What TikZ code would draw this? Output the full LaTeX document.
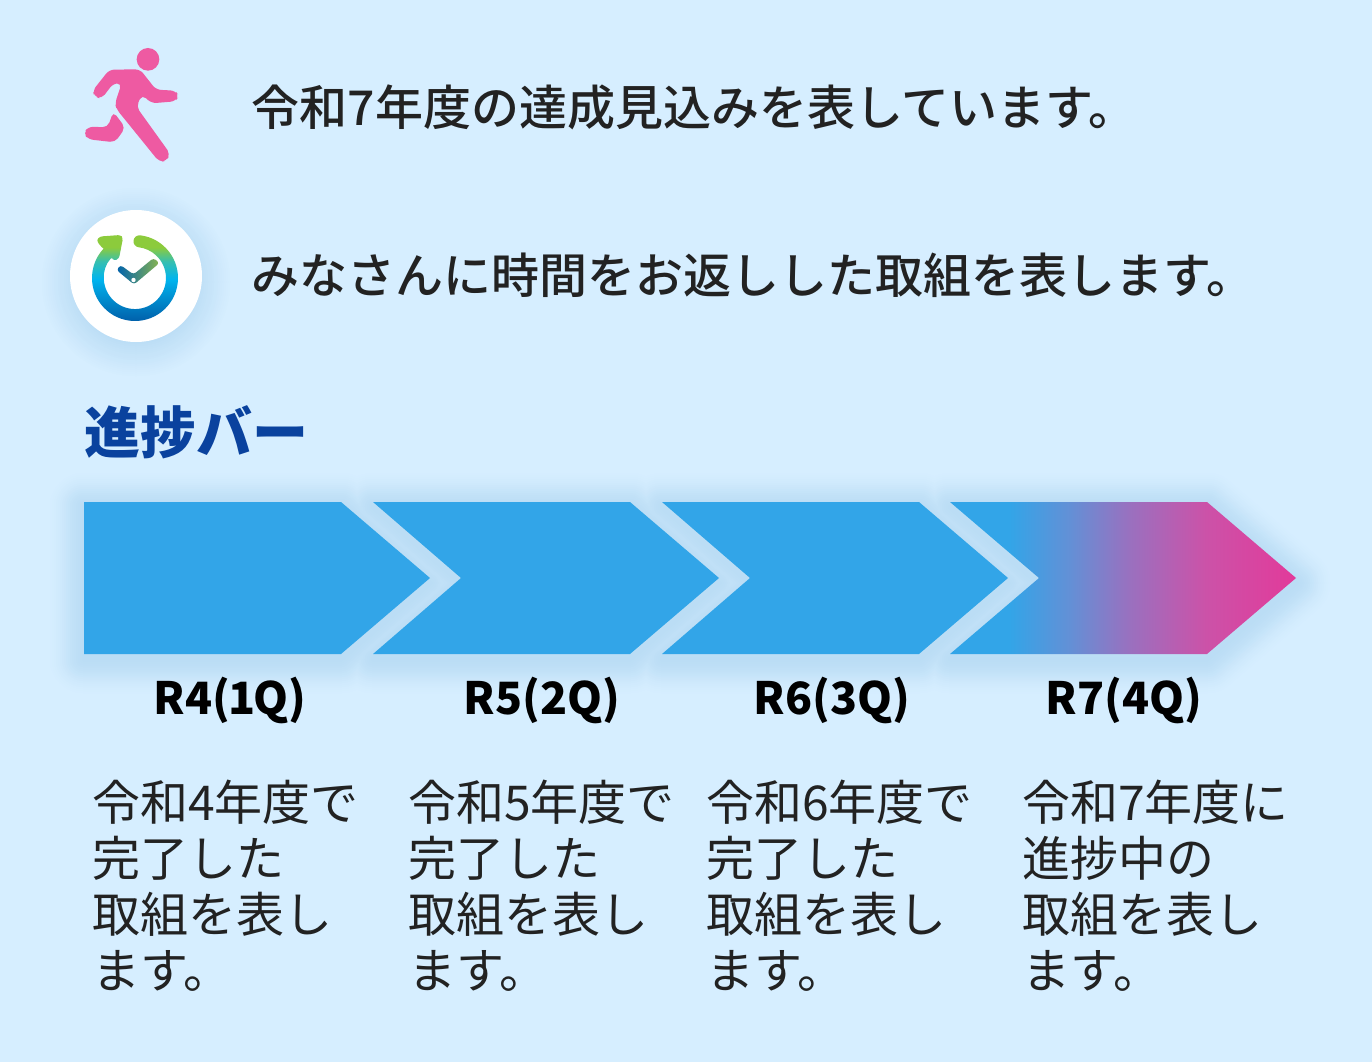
\documentclass[tikz,border=0pt]{standalone}
\usepackage{fontspec}
\setmainfont{Noto Sans CJK JP}
\newfontfamily\medjp{Noto Sans CJK JP Medium}
\usetikzlibrary{positioning}
\definecolor{bgblue}{HTML}{D6EEFF}
\definecolor{barblue}{HTML}{32A5E8}
\definecolor{glowedge}{HTML}{BBDDF5}
\definecolor{barpink}{HTML}{E23A9A}
\definecolor{barmida}{HTML}{6390D6}
\definecolor{barmidb}{HTML}{9A70BF}
\definecolor{barmidc}{HTML}{CC52A8}
\definecolor{runpink}{HTML}{EE5AA2}
\definecolor{titleblue}{HTML}{0A429E}
\definecolor{txtdark}{HTML}{222222}
\definecolor{ringdark}{HTML}{0062AC}
\definecolor{ringcyan}{HTML}{00B4EE}
\definecolor{ringteal}{HTML}{35BFB0}
\definecolor{ringgreen}{HTML}{8CCB3C}
\pgfdeclarehorizontalshading{lastbar}{100bp}{color(0bp)=(barblue); color(33.5bp)=(barblue); color(42.3bp)=(barmida); color(51bp)=(barmidb); color(62bp)=(barmidc); color(75bp)=(barpink); color(100bp)=(barpink)}
\pgfdeclareverticalshading{ringshade}{100bp}{color(0bp)=(ringdark); color(27bp)=(ringdark); color(50bp)=(ringcyan); color(60bp)=(ringteal); color(68bp)=(ringgreen); color(100bp)=(ringgreen)}
\tikzset{
  linetext/.style={anchor=base west,inner sep=0pt,text=txtdark,font=\fontsize{48}{48}\selectfont\medjp},
  blocktext/.style={anchor=north west,inner sep=0pt,align=left,text=txtdark,font=\fontsize{48}{56}\selectfont},
  quarter/.style={anchor=base,inner sep=0pt,text=black,font=\fontsize{44.5}{44.5}\selectfont\bfseries},
  glow/.style={line join=round,yshift=-5pt},
}
\begin{document}
\begin{tikzpicture}[x=1pt,y=1pt]
\useasboundingbox (0,0) rectangle (1372,-1062);
\fill [bgblue] (0,0) rectangle (1372,-1062);

% glow behind the bar
\foreach \w [evaluate=\w as \p using {100*(\w/76)*(\w/76)*(3-2*\w/76)}] in {76,72,...,4} {
  \draw [glow,draw=bgblue!\p!glowedge,fill=bgblue!\p!glowedge,line width=\w pt] (84,-502) -- (341,-502) -- (430,-578) -- (341,-654) -- (84,-654) -- cycle;
  \foreach \xs in {373,662,950}
    \draw [glow,draw=bgblue!\p!glowedge,line width=\w pt,xshift=\xs pt] (0,-502) -- (257,-502) -- (346,-578) -- (257,-654) -- (0,-654) -- (88,-578) -- cycle;
}

% bar
\fill [barblue] (84,-502) -- (341,-502) -- (430,-578) -- (341,-654) -- (84,-654) -- cycle;
\foreach \xs in {373,662}
  \fill [barblue,xshift=\xs pt] (0,-502) -- (257,-502) -- (346,-578) -- (257,-654) -- (0,-654) -- (88,-578) -- cycle;
\shade [shading=lastbar] (950,-502) -- (1207,-502) -- (1296,-578) -- (1207,-654) -- (950,-654) -- (1039,-578) -- cycle;

% runner
\begin{scope}[shift={(60,-30)},x=.3333pt,y=-.3333pt]
\fill [runpink] (264,88) circle (34);
\fill [runpink,rounded corners=5pt] (148,119) -- (240,118) -- (288,179) -- (346,182) -- (357,198) -- (346,214) -- (275,220) -- (246,194) -- (229,230) -- (331,372) -- (319,393) -- (298,396) -- (170,238) -- (165,220) -- (185,160) -- (160,160) -- (125,206) -- (104,201) -- (98,182) -- cycle;
\fill [runpink,rounded corners=5pt] (160,245) -- (196,293) -- (165,337) -- (85,328) -- (70,310) -- (85,290) -- (143,292) -- cycle;
\end{scope}

% clock
\foreach \r [evaluate=\r as \p using {100*(\r-60)/36}] in {96,94,...,62}
  \fill [bgblue!\p!glowedge] (136,-282) circle (\r);
\fill [white] (136,-276) circle (66);
\shade [shading=ringshade] (140.24,-235.32) arc [start angle=83,delta angle=-306,radius=43]
  [rounded corners=2.5pt] -- (100,-245.5) -- (96.5,-240) -- (100,-236.5) -- (120.5,-235) -- (123,-238) -- (119,-258.5) -- (113.5,-261) -- (112.3,-256.9) [sharp corners]
  arc [start angle=137,delta angle=306,radius=31] arc [start angle=263,delta angle=-180,radius=6] -- cycle;
\shade [left color=ringdark,right color=ringgreen!70!gray,rounded corners=3pt] (116.5,-270) -- (120.5,-265) -- (133.5,-274.5) -- (153.5,-258) -- (159.5,-263) -- (134,-284.5) -- cycle;
\fill [white] (133.5,-280) circle (2.2);

% texts
\node [linetext] (note1) at (251.5,-125) {令和7年度の達成見込みを表しています。};
\node [linetext] (note2) at (251.5,-293) {みなさんに時間をお返しした取組を表します。};
\node [anchor=base west,inner sep=0pt,text=titleblue,font=\fontsize{56}{56}\selectfont\bfseries] (title) at (84,-453.5) {進捗バー};

\node [quarter] (q1) at (230,-714) {R4(\kern-1.5pt 1\kern-2pt Q)};
\node [quarter] (q2) at (542,-714) {R5(2Q)};
\node [quarter] (q3) at (832,-714) {R6(3Q)};
\node [quarter] (q4) at (1124,-714) {R7(4Q)};

\node [blocktext] (desc1) at (92,-780) {令和4年度で\\完了した\\取組を表し\\ます。};
\node [blocktext] (desc2) at (408,-780) {令和5年度で\\完了した\\取組を表し\\ます。};
\node [blocktext] (desc3) at (706,-780) {令和6年度で\\完了した\\取組を表し\\ます。};
\node [blocktext] (desc4) at (1022,-780) {令和7年度に\\進捗中の\\取組を表し\\ます。};
\end{tikzpicture}
\end{document}
